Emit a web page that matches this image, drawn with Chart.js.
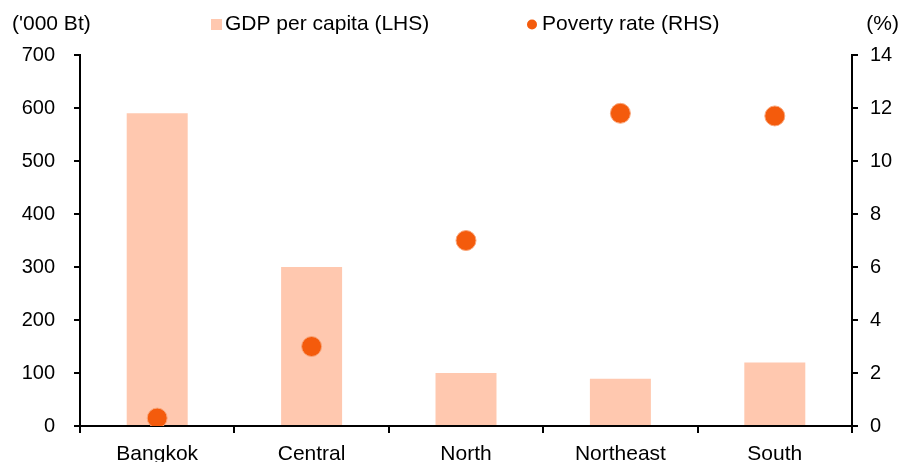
<!DOCTYPE html>
<html>
<head>
<meta charset="utf-8">
<script src="https://cdn.jsdelivr.net/npm/chart.js@4"></script>
<style>
  html, body { margin: 0; padding: 0; background: #fff; }
  #wrap { width: 914px; height: 462px; position: relative; }
</style>
</head>
<body>
<div id="wrap"><canvas id="c" width="914" height="462"></canvas></div>
<script>
const regions = ['Bangkok', 'Central', 'North', 'Northeast', 'South'];
const gdpPerCapita = [590, 300, 100, 89, 120];      // '000 Baht
const povertyRate = [0.3, 3.0, 7.0, 11.8, 11.7];    // %
const leftTicks = [0, 100, 200, 300, 400, 500, 600, 700];
const rightTicks = [0, 2, 4, 6, 8, 10, 12, 14];

const FONT = 'Liberation Sans, Arial, sans-serif';
const BAR_COLOR = '#FFC8AF';
const DOT_COLOR = '#F45B0C';

// Unit labels and legend row across the top
const headerPlugin = {
  id: 'header',
  afterDraw(chart) {
    const ctx = chart.ctx;
    const bars = chart.data.datasets.find(d => d.type === 'bar');
    const dots = chart.data.datasets.find(d => d.type === 'scatter');
    ctx.save();
    ctx.fillStyle = '#000';
    ctx.font = '21px ' + FONT;
    ctx.textBaseline = 'middle';
    ctx.textAlign = 'left';
    ctx.fillText("('000 Bt)", 12, 24);
    ctx.textAlign = 'right';
    ctx.fillText('(%)', 899, 24);

    ctx.textAlign = 'left';
    ctx.fillStyle = BAR_COLOR;
    ctx.fillRect(211, 19, 11, 11);
    ctx.fillStyle = '#000';
    ctx.fillText(bars.label, 225, 24);

    ctx.beginPath();
    ctx.arc(532, 24.5, 5, 0, Math.PI * 2);
    ctx.fillStyle = DOT_COLOR;
    ctx.fill();
    ctx.fillStyle = '#000';
    ctx.fillText(dots.label, 542, 24);
    ctx.restore();
  }
};

const gridStyle = { drawOnChartArea: false, drawTicks: true, tickLength: 6, color: '#000', lineWidth: 2 };
const borderStyle = { display: true, color: '#000', width: 2 };

new Chart(document.getElementById('c'), {
  data: {
    labels: regions,
    datasets: [
      {
        type: 'scatter',
        label: 'Poverty rate (RHS)',
        data: povertyRate,
        yAxisID: 'yR',
        backgroundColor: DOT_COLOR,
        borderColor: '#F9A77C',
        borderWidth: 1,
        pointRadius: 10,
        showLine: false,
        order: 0
      },
      {
        type: 'bar',
        label: 'GDP per capita (LHS)',
        data: gdpPerCapita,
        yAxisID: 'yL',
        backgroundColor: BAR_COLOR,
        categoryPercentage: 1,
        barPercentage: 0.395,
        order: 1
      }
    ]
  },
  options: {
    responsive: false,
    animation: false,
    devicePixelRatio: 1,
    layout: { padding: { top: 55, left: 0, right: 0, bottom: 0 } },
    plugins: { legend: { display: false }, tooltip: { enabled: false } },
    scales: {
      x: {
        type: 'category',
        offset: true,
        grid: { ...gridStyle, offset: true, tickLength: 7 },
        border: borderStyle,
        ticks: { color: '#000', font: { family: FONT, size: 21 }, padding: 9, maxRotation: 0 },
        afterFit(s) { s.height = 36; }
      },
      yL: {
        position: 'left',
        min: 0, max: 700,
        afterBuildTicks(s) { s.ticks = leftTicks.map(v => ({ value: v })); },
        grid: gridStyle,
        border: borderStyle,
        ticks: { color: '#000', font: { family: FONT, size: 20 }, padding: 19 },
        afterFit(s) { s.width = 80; }
      },
      yR: {
        position: 'right',
        min: 0, max: 14,
        afterBuildTicks(s) { s.ticks = rightTicks.map(v => ({ value: v })); },
        grid: gridStyle,
        border: borderStyle,
        ticks: { color: '#000', font: { family: FONT, size: 20 }, padding: 12 },
        afterFit(s) { s.width = 62; }
      }
    }
  },
  plugins: [headerPlugin]
});
</script>
</body>
</html>
